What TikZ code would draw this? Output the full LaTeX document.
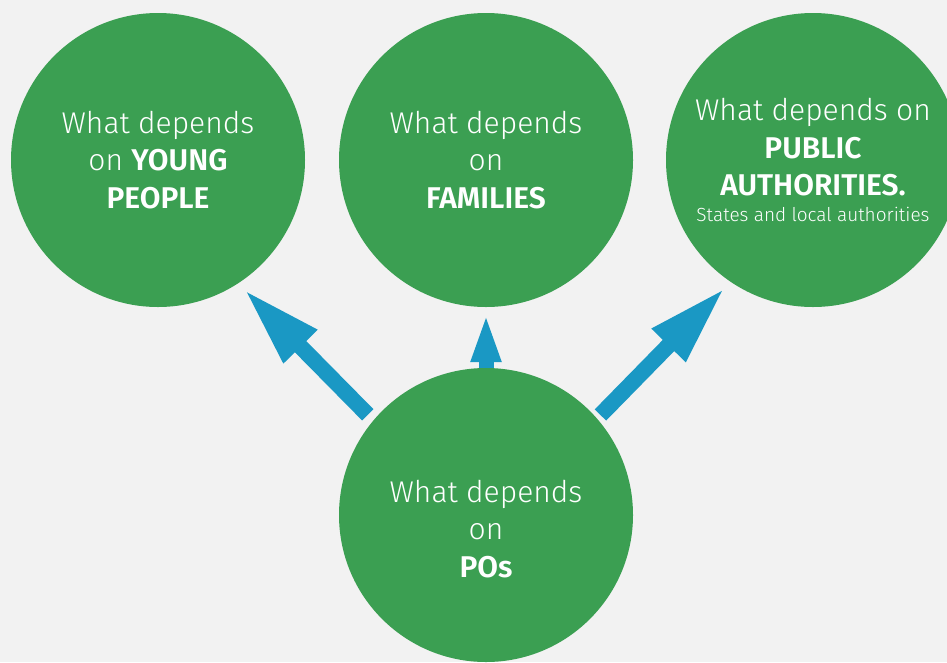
\documentclass[tikz,border=0pt]{standalone}
\usepackage{fontspec}
\setmainfont{Fira Sans Light}[BoldFont={Fira Sans SemiBold}]
\usepackage{xcolor}
\usetikzlibrary{arrows.meta}
\definecolor{circgreen}{RGB}{59,159,82}
\definecolor{arrowblue}{RGB}{26,152,196}
\definecolor{bggray}{RGB}{242,242,242}

\begin{document}
\begin{tikzpicture}[x=1pt, y=-1pt,
    bubble/.style={circle, fill=circgreen, minimum size=294pt, inner sep=0pt, outer sep=0pt,
      text=white, align=center, font=\fontsize{30}{37.5}\selectfont},
    bubbletext/.style={text=white, align=center, font=\fontsize{30}{37.5}\selectfont},
    bigarrow/.style={arrowblue, line width=16pt, -{Triangle[length=81pt, width=43pt]}}]
  \fill[bggray] (0,0) rectangle (947,662);
  \useasboundingbox (0,0) rectangle (947,662);

  %Circles
  \node[bubble] (young) at (158,160) {What depends\\on \textbf{YOUNG}\\\textbf{PEOPLE}};
  \node[bubble] (families) at (486,160) {What depends\\on\\\textbf{FAMILIES}};
  \node[bubble] (public) at (813,160) {What depends on\\\textbf{PUBLIC}\\\textbf{AUTHORITIES.}\\[-11.5pt]{\fontsize{19}{20}\selectfont States and local authorities}};
  \node[bubble] (pos) at (486,515) {};
  \node[bubbletext] (postext) at (486,529) {What depends\\on\\\textbf{POs}};

  %Arrows
  \draw[bigarrow, shorten <=8pt, shorten >=8pt] (pos.140) -- (young.303);
  \draw[bigarrow, line width=15pt, -{Triangle[length=49pt, width=27pt]}, shorten >=6pt] (pos.90) -- (families.270);
  \draw[bigarrow, shorten <=5pt, shorten >=8pt] (pos.41) -- (public.236);
\end{tikzpicture}
\end{document}
